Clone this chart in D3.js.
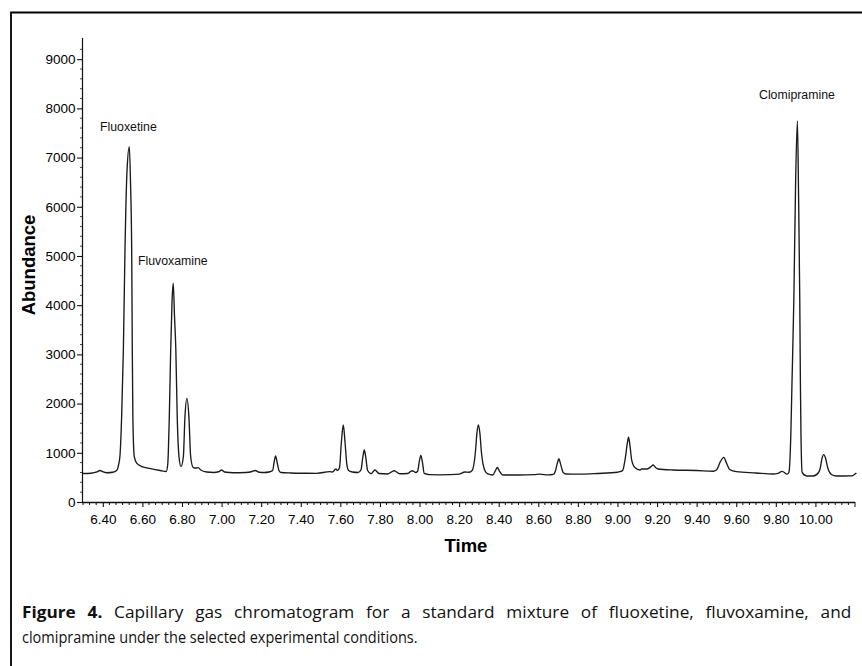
<!DOCTYPE html>
<html><head><meta charset="utf-8">
<script src="https://cdn.jsdelivr.net/npm/d3@7"></script>
<style>html,body{margin:0;padding:0;background:#fff}</style>
</head><body>
<svg id="chart" width="862" height="666"></svg>
<script>
// ---------------- DATA ----------------
const xTickLabels = ["6.40","6.60","6.80","7.00","7.20","7.40","7.60","7.80","8.00","8.20",
  "8.40","8.60","8.80","9.00","9.20","9.40","9.60","9.80","10.00"];
const yTickLabels = ["0","1000","2000","3000","4000","5000","6000","7000","8000","9000"];
const peakNames = ["Fluoxetine","Fluvoxamine","Clomipramine"];

// retention time (min)
const times = [
  6.300,6.340,6.370,6.385,6.400,6.420,6.450,6.470,6.480,6.487,6.495,6.504,6.512,6.522,6.534,6.540,6.546,6.549,6.552,6.559,6.571,6.598,6.640,6.690,6.720,
  6.728,6.731,6.736,6.743,6.750,6.756,6.762,6.769,6.776,6.785,6.795,6.807,6.815,6.825,6.835,6.844,6.857,6.870,6.882,6.895,6.925,6.960,6.985,7.000,7.015,
  7.060,7.120,7.150,7.170,7.190,7.215,7.240,7.258,7.266,7.273,7.281,7.290,7.300,7.350,7.400,7.480,7.547,7.560,7.578,7.586,7.596,7.605,7.615,7.624,7.633,
  7.642,7.660,7.690,7.704,7.714,7.721,7.728,7.738,7.755,7.775,7.795,7.840,7.872,7.900,7.940,7.963,7.980,7.990,8.000,8.007,8.015,8.024,8.050,8.100,8.150,
  8.200,8.229,8.250,8.266,8.282,8.290,8.297,8.305,8.313,8.330,8.345,8.370,8.385,8.393,8.402,8.423,8.500,8.580,8.608,8.650,8.676,8.684,8.697,8.704,8.712,
  8.726,8.740,8.800,8.900,9.000,9.012,9.026,9.040,9.050,9.056,9.063,9.072,9.088,9.114,9.122,9.150,9.170,9.180,9.195,9.205,9.280,9.400,9.483,9.500,9.520,
  9.537,9.552,9.567,9.601,9.700,9.786,9.810,9.832,9.857,9.866,9.876,9.882,9.891,9.900,9.909,9.915,9.921,9.924,9.927,9.933,9.955,9.989,10.016,10.025,10.033,
  10.042,10.052,10.062,10.081,10.106,10.182,10.207
];
// abundance
const abundance = [
  580,585,610,640,615,595,605,640,760,950,1700,3100,5100,6700,7220,6500,5100,3100,1700,920,790,720,680,640,620,
  760,1000,1730,3090,4100,4445,3800,3090,1730,920,720,920,1730,2107,1730,920,700,690,700,650,610,600,615,650,610,
  595,600,615,640,605,600,610,640,820,935,800,640,600,590,585,583,616,610,670,640,700,1200,1565,1200,760,
  640,610,600,650,920,1057,920,640,575,650,580,570,636,575,580,636,600,620,850,948,800,580,555,552,555,
  565,610,605,640,1000,1400,1565,1400,1000,640,570,549,650,705,640,549,549,555,565,550,560,600,800,880,780,
  600,570,565,580,605,616,640,900,1200,1315,1150,850,700,650,670,670,720,752,690,670,650,640,625,650,820,
  908,780,660,616,590,569,580,623,565,600,1396,2480,4105,6500,7744,6200,4105,2480,1396,600,528,528,600,700,880,
  962,880,700,560,528,530,590
];

// ---------------- CHART ----------------
const svg = d3.select("#chart");
const FONT = "'Liberation Sans', Arial, Helvetica, sans-serif";

// frame (cut off at right and bottom)
svg.append("path").attr("d","M11,666V12.5H862").attr("fill","none")
  .attr("stroke","#000").attr("stroke-width",1.8);

const x = d3.scaleLinear().domain([6.30, 10.20]).range([83, 855]);
const y = d3.scaleLinear().domain([0, 9430]).range([502, 38]);

// x axis
const xMajor = xTickLabels.map(Number);
const xAxis = d3.axisBottom(x).tickValues(xMajor).tickFormat((d,i)=>xTickLabels[i])
  .tickSize(5).tickSizeOuter(0).tickPadding(7.5);
const gx = svg.append("g").attr("transform","translate(0,502)").call(xAxis);
gx.select(".domain").attr("d","M82,0.5H855").attr("stroke","#111").attr("stroke-width",1.3);
gx.selectAll(".tick line").attr("stroke","#111").attr("stroke-width",1.1);
gx.selectAll("text").attr("font-family",FONT).attr("font-size",13.5).attr("fill","#000");
// minor ticks every 2 s and end tick
const xMinor = d3.range(0,118).map(i=>6.30+i/30).filter(v=>!xMajor.some(m=>Math.abs(m-v)<1e-6));
gx.selectAll(".minor").data(xMinor).join("line").attr("class","minor")
  .attr("x1",d=>x(d)).attr("x2",d=>x(d)).attr("y1",0).attr("y2",d=>Math.abs(d-10.20)<1e-6?5:3)
  .attr("stroke","#111").attr("stroke-width",1);

// y axis
const yVals = yTickLabels.map(Number);
const yAxis = d3.axisLeft(y).tickValues(yVals).tickFormat((d,i)=>yTickLabels[i])
  .tickSize(5).tickSizeOuter(0).tickPadding(1.5);
const gy = svg.append("g").attr("transform","translate(82,0)").call(yAxis);
gy.select(".domain").attr("d","M0.5,38V502").attr("stroke","#111").attr("stroke-width",1.2);
gy.selectAll(".tick line").attr("stroke","#111").attr("stroke-width",1.1);
gy.selectAll("text").attr("font-family",FONT).attr("font-size",13.5).attr("fill","#000");
const yMinor = d3.range(200, 9400, 200).filter(v=>v%1000!==0);
gy.selectAll(".minor").data(yMinor).join("line").attr("class","minor")
  .attr("x1",-2).attr("x2",0).attr("y1",d=>y(d)).attr("y2",d=>y(d))
  .attr("stroke","#333").attr("stroke-width",0.9);

// axis titles
svg.append("text").attr("transform","translate(35,265) rotate(-90)")
  .attr("text-anchor","middle").attr("font-family",FONT).attr("font-weight","bold")
  .attr("font-size",18.5).attr("fill","#000").text("Abundance");
svg.append("text").attr("x",466).attr("y",552)
  .attr("text-anchor","middle").attr("font-family",FONT).attr("font-weight","bold")
  .attr("font-size",18.5).attr("fill","#000").text("Time");

// chromatogram trace
const pts = times.map((t,i)=>[t, abundance[i]]);
const line = d3.line().x(d=>x(d[0])).y(d=>y(d[1])).curve(d3.curveMonotoneX);
svg.append("path").datum(pts).attr("d",line).attr("fill","none")
  .attr("stroke","#1a1a1a").attr("stroke-width",1.35).attr("stroke-linejoin","round");

// peak labels
const labelAt = [[100,131],[138,265],[759,99]];
svg.selectAll(".plabel").data(peakNames).join("text").attr("class","plabel")
  .attr("x",(d,i)=>labelAt[i][0]).attr("y",(d,i)=>labelAt[i][1])
  .attr("font-family",FONT).attr("font-size",12.3).attr("fill","#111").text(d=>d);

// caption (line 1 justified)
const CAPFONT = "'Open Sans','Noto Sans','Liberation Sans',sans-serif";
const g1 = svg.append("g");
const cap1 = g1.append("text").attr("x",0).attr("y",0).attr("font-family",CAPFONT).attr("fill","#111").attr("font-size",16.5);
cap1.append("tspan").attr("font-weight","bold").text("Figure 4.");
cap1.append("tspan").text(" Capillary gas chromatogram for a standard mixture of fluoxetine, fluvoxamine, and");
const g2 = svg.append("g");
const cap2 = g2.append("text").attr("x",0).attr("y",0).attr("font-family",CAPFONT).attr("fill","#111").attr("font-size",16.5)
  .text("clomipramine under the selected experimental conditions.");
const w2 = cap2.node().getComputedTextLength();
g2.attr("transform",`translate(22,643) scale(${396/w2},1)`);
const wsExtra = 7;
const w1 = cap1.node().getComputedTextLength();
cap1.attr("word-spacing", wsExtra);
const sx1 = 830 / (w1 + 12*wsExtra);
g1.attr("transform",`translate(22,618) scale(${sx1},1)`);
</script>
</body></html>
